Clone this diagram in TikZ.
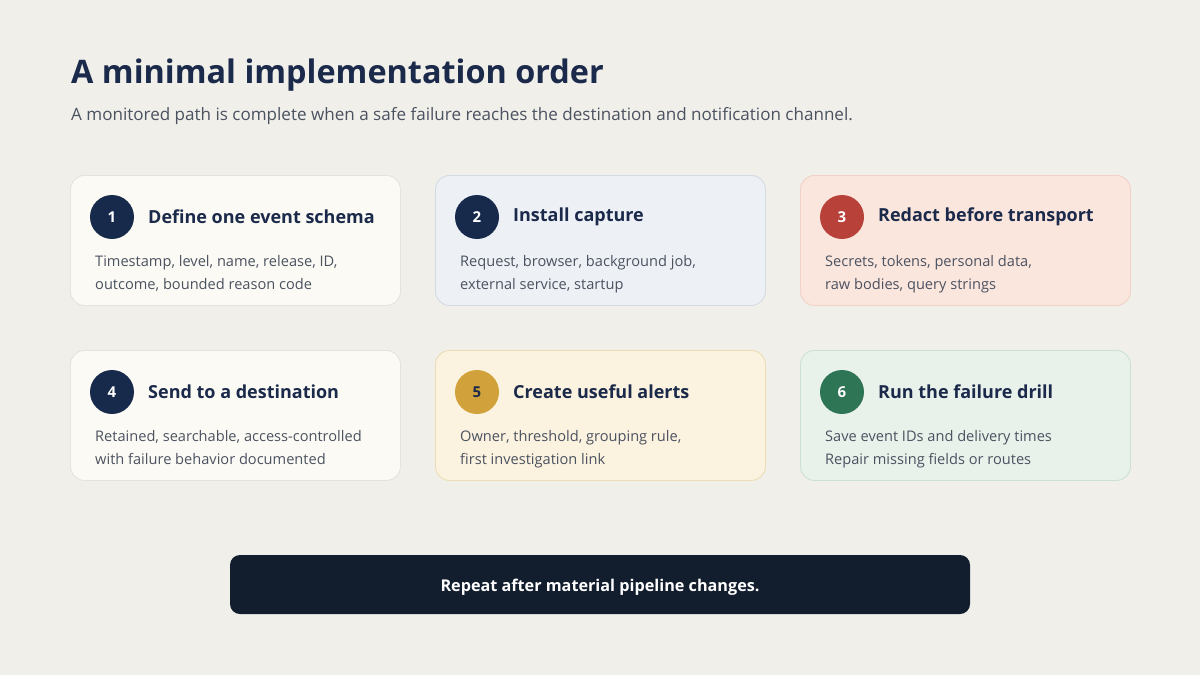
\documentclass[tikz,border=0pt]{standalone}
\usepackage{fontspec}
\setmainfont{Open Sans}
\usetikzlibrary{positioning}
\definecolor{bg}{HTML}{F0EFEA}
\definecolor{navy}{HTML}{1B2A4A}
\definecolor{gray}{HTML}{4B5260}
\definecolor{cA}{HTML}{FBFAF4}\definecolor{bA}{HTML}{E5E3DB}
\definecolor{cB}{HTML}{EDF0F5}\definecolor{bB}{HTML}{D5DBE5}
\definecolor{cC}{HTML}{FBE6DE}\definecolor{bC}{HTML}{F1D2C6}
\definecolor{cE}{HTML}{FBF2DF}\definecolor{bE}{HTML}{EDDDB5}
\definecolor{cF}{HTML}{E9F1EB}\definecolor{bF}{HTML}{CDE1D3}
\definecolor{kNavy}{HTML}{172A4C}
\definecolor{kRed}{HTML}{B8413A}
\definecolor{kGold}{HTML}{D1A23B}
\definecolor{kGreen}{HTML}{2E7556}
\definecolor{bar}{HTML}{121D2E}
\tikzset{
  card/.style={draw=#1, line width=0.9pt, rounded corners=14pt, minimum width=330pt, minimum height=130pt, inner sep=0pt},
  badge/.style={circle, fill=#1, minimum size=44pt, inner sep=0pt, font=\fontsize{15}{18}\selectfont\bfseries},
  ctitle/.style={anchor=west, inner sep=0pt, text=navy, font=\fontsize{18}{22}\selectfont\bfseries},
  cbody/.style={anchor=north west, inner sep=0pt, text=gray, align=left, font=\fontsize{14.6}{23}\selectfont},
}
\newcommand{\mkcard}[9]{%
  % #1 name, #2 x, #3 y, #4 fill, #5 border, #6 badge color, #7 number color, #8 number, #9 title
  \node[card=#5, fill=#4, anchor=north west] (#1) at (#2,#3) {};
  \node[badge=#6, text=#7] (#1n) at ([xshift=42pt,yshift=-42pt]#1.north west) {#8};
  \node[ctitle] (#1t) at ([xshift=78pt,yshift=-42pt]#1.north west) {#9};
}
\begin{document}
\begin{tikzpicture}[x=1pt,y=-1pt]
\fill[bg] (0,0) rectangle (1200,675);
\useasboundingbox (0,0) rectangle (1200,675);
\node[anchor=base west, inner sep=0pt, text=navy, font=\fontsize{32.4}{40}\selectfont\bfseries] (title) at (71,83) {A minimal implementation order};
\node[anchor=base west, inner sep=0pt, text=gray, font=\fontsize{17.05}{21}\selectfont] (sub) at (71,120) {A monitored path is complete when a safe failure reaches the destination and notification channel.};

\mkcard{c1}{70}{175}{cA}{bA}{kNavy}{white}{1}{Define one event schema}
\node[cbody] (c1b) at ([xshift=25pt,yshift=-80pt]c1.north west) {Timestamp, level, name, release, ID,\\outcome, bounded reason code};
\mkcard{c2}{435}{175}{cB}{bB}{kNavy}{white}{2}{Install capture}
\node[cbody] (c2b) at ([xshift=25pt,yshift=-80pt]c2.north west) {Request, browser, background job,\\external service, startup};
\mkcard{c3}{800}{175}{cC}{bC}{kRed}{white}{3}{Redact before transport}
\node[cbody] (c3b) at ([xshift=25pt,yshift=-80pt]c3.north west) {Secrets, tokens, personal data,\\raw bodies, query strings};
\mkcard{c4}{70}{350}{cA}{bA}{kNavy}{white}{4}{Send to a destination}
\node[cbody] (c4b) at ([xshift=25pt,yshift=-80pt]c4.north west) {Retained, searchable, access-controlled\\with failure behavior documented};
\mkcard{c5}{435}{350}{cE}{bE}{kGold}{navy}{5}{Create useful alerts}
\node[cbody] (c5b) at ([xshift=25pt,yshift=-80pt]c5.north west) {Owner, threshold, grouping rule,\\first investigation link};
\mkcard{c6}{800}{350}{cF}{bF}{kGreen}{white}{6}{Run the failure drill}
\node[cbody] (c6b) at ([xshift=25pt,yshift=-80pt]c6.north west) {Save event IDs and delivery times\\Repair missing fields or routes};

\node[fill=bar, rounded corners=10pt, minimum width=740pt, minimum height=59pt, inner sep=0pt] (bar) at (600,584.5) {};
\node[text=white, inner sep=0pt, font=\fontsize{16.2}{19}\selectfont\bfseries] (bartxt) at ([yshift=-3pt]bar.center) {Repeat after material pipeline changes.};
\end{tikzpicture}
\end{document}
